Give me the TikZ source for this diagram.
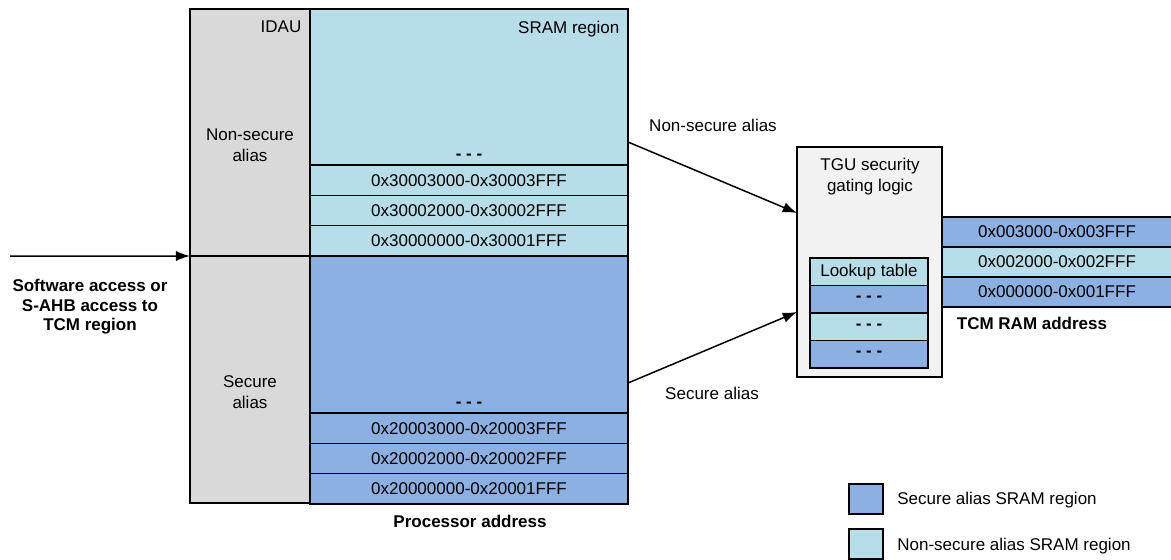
\documentclass[tikz,border=0pt]{standalone}
\usepackage{fontspec}
\setmainfont{Liberation Sans}
\usetikzlibrary{arrows.meta, positioning}
\definecolor{nsblue}{HTML}{B7DDE8}
\definecolor{sblue}{HTML}{8DB0E3}
\definecolor{idaugray}{HTML}{D9D9D9}
\definecolor{tgugray}{HTML}{F2F2F2}

\begin{document}
\begin{tikzpicture}[
  x=0.6pt, y=-0.6pt,
  node distance=0pt,
  cell/.style={draw, line width=0.8pt, outer sep=0pt, inner sep=0pt,
               align=center, font=\fontsize{10.2}{12.6}\selectfont},
  nsrow/.style={cell, fill=nsblue, minimum width=190.8pt, minimum height=18.2pt},
  srow/.style={cell, fill=sblue, minimum width=190.8pt, minimum height=18.2pt},
  lutrow/.style={cell, minimum width=70.8pt, minimum height=16.5pt},
  tcmrow/.style={cell, minimum width=150pt, minimum height=18pt},
  keybox/.style={cell, minimum width=20.4pt, minimum height=18pt},
  flow/.style={-{Latex[length=3mm, width=2.2mm]}, line width=0.9pt},
  lab/.style={align=center, font=\fontsize{10.2}{12.6}\selectfont},
  head/.style={align=center, font=\bfseries\fontsize{10.2}{11.7}\selectfont}
]
\useasboundingbox (0,0) rectangle (1171,559);

\node[cell, fill=idaugray, minimum width=72pt, minimum height=148.2pt, anchor=north west] (idauns) at (190,9) {};
\node[cell, fill=idaugray, minimum width=72pt, minimum height=148.2pt, below=of idauns] (idaus) {};

\node[cell, fill=nsblue, minimum width=190.8pt, minimum height=93.6pt, anchor=north west] (nstop) at (310,9) {};
\node[nsrow, below=of nstop] (ns3) {0x30003000-0x30003FFF};
\node[nsrow, below=of ns3] (ns2) {0x30002000-0x30002FFF};
\node[nsrow, below=of ns2] (ns1) {0x30000000-0x30001FFF};
\node[cell, fill=sblue, minimum width=190.8pt, minimum height=94.2pt, below=of ns1] (stop) {};
\node[srow, below=of stop] (s3) {0x20003000-0x20003FFF};
\node[srow, below=of s3] (s2) {0x20002000-0x20002FFF};
\node[srow, below=of s2] (s1) {0x20000000-0x20001FFF};

\node[lab, anchor=north east, inner xsep=5pt, inner ysep=7pt] at (idauns.north east) {IDAU};
\node[lab, anchor=north east, inner xsep=5pt, inner ysep=7pt] at (nstop.north east) {SRAM region};
\node[lab] at (250,145) {Non-secure\\alias};
\node[lab] at (250,392) {Secure\\alias};
\node[lab, anchor=south, inner sep=3pt] at (nstop.south) {\textbf{- - -}};
\node[lab, anchor=south, inner sep=3pt] at (stop.south) {\textbf{- - -}};
\node[head] at (470,521) {Processor address};

\coordinate (in) at (10,256);
\draw[flow] (in) -- (idauns.south west);
\node[head] at (90,307) {Software access or\\S-AHB access to\\TCM region};

\node[cell, fill=tgugray, minimum width=87pt, minimum height=138pt, anchor=north west] (tgu) at (797,147) {};
\node[lab] at (870,177) {TGU security\\gating logic};
\node[lutrow, fill=nsblue, anchor=north west] (lut) at (810,258) {Lookup table};
\node[lutrow, fill=sblue, below=of lut] (lut1) {\textbf{- - -}};
\node[lutrow, fill=nsblue, below=of lut1] (lut2) {\textbf{- - -}};
\node[lutrow, fill=sblue, below=of lut2] (lut3) {\textbf{- - -}};

\node[tcmrow, fill=sblue, anchor=north west] (tcm3) at (942,217) {};
\node[tcmrow, fill=nsblue, below=of tcm3] (tcm2) {};
\node[tcmrow, fill=sblue, below=of tcm2] (tcm1) {};
\node[lab] at (1057,232) {0x003000-0x003FFF};
\node[lab] at (1057,262) {0x002000-0x002FFF};
\node[lab] at (1057,292) {0x000000-0x001FFF};
\node[head] at (1032,323) {TCM RAM address};

\draw[flow] (nstop.east |- 0,142) -- (tgu.west |- 0,213);
\draw[flow] (stop.east |- 0,383) -- (tgu.west |- 0,312);
\node[lab] at (713,125) {Non-secure alias};
\node[lab] at (712,393) {Secure alias};

\node[keybox, fill=sblue, anchor=north west] (keys) at (849,484) {};
\node[keybox, fill=nsblue, anchor=north west] (keyns) at (849,529) {};
\node[lab, anchor=west, inner sep=0pt] at (897,500) {Secure alias SRAM region};
\node[lab, anchor=west, inner sep=0pt] at (897,546) {Non-secure alias SRAM region};
\end{tikzpicture}
\end{document}
